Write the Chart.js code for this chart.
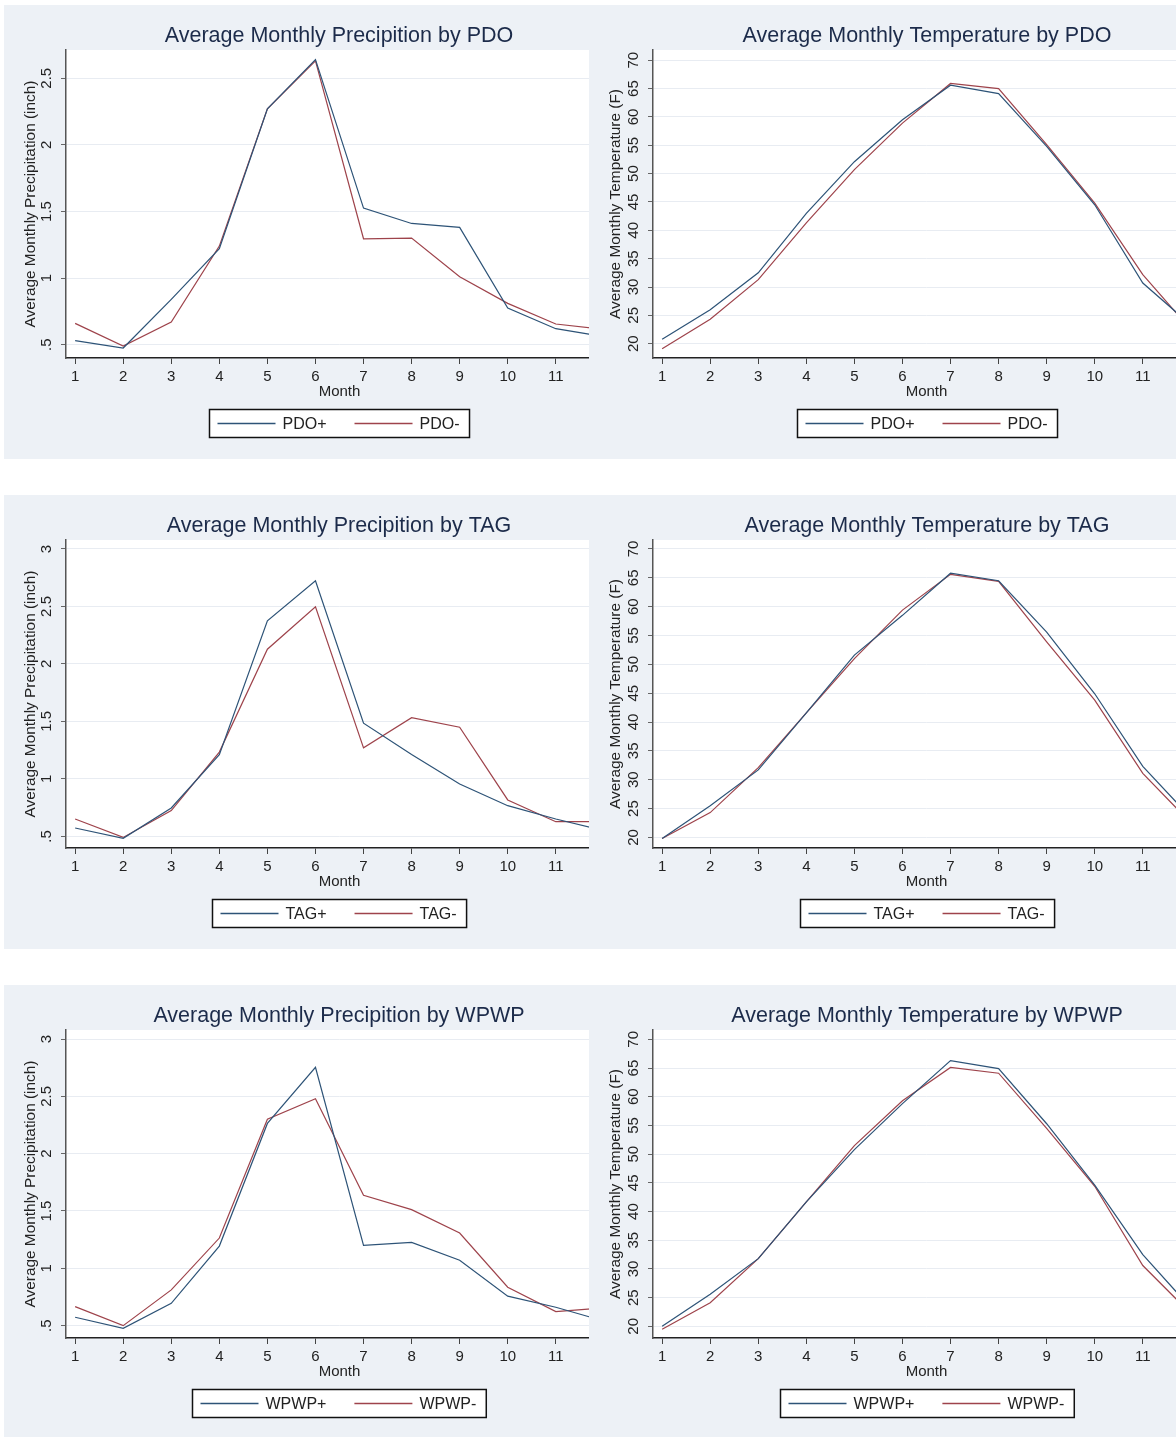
<!DOCTYPE html>
<html>
<head>
<meta charset="utf-8">
<title>Average Monthly Precipitation and Temperature by Climate Index</title>
<script src="https://cdn.jsdelivr.net/npm/chart.js@4.4.1/dist/chart.umd.min.js"></script>
<style>
    html, body { margin: 0; padding: 0; background: #fff; }
    #page { position: relative; width: 1176px; height: 1437px; overflow: hidden; }
    #page canvas { position: absolute; }
</style>
</head>
<body>
<div id="page">
    <canvas id="pdoPrecip" width="670" height="454" style="left:4px; top:5px"></canvas>
    <canvas id="pdoTemp" width="676" height="454" style="left:589px; top:5px"></canvas>
    <canvas id="tagPrecip" width="670" height="454" style="left:4px; top:495px"></canvas>
    <canvas id="tagTemp" width="676" height="454" style="left:589px; top:495px"></canvas>
    <canvas id="wpwpPrecip" width="670" height="454" style="left:4px; top:985px"></canvas>
    <canvas id="wpwpTemp" width="676" height="454" style="left:589px; top:985px"></canvas>
</div>
<script>
// Monthly averages, one value per month (Jan..Dec)
const months = [1, 2, 3, 4, 5, 6, 7, 8, 9, 10, 11, 12];

const pdoPrecipPos = [0.53, 0.475, 0.84, 1.22, 2.27, 2.64, 1.525, 1.41, 1.38, 0.775, 0.62, 0.56];
const pdoPrecipNeg = [0.66, 0.49, 0.67, 1.24, 2.27, 2.63, 1.295, 1.30, 1.01, 0.81, 0.655, 0.615];
const pdoTempPos = [20.8, 26.0, 32.5, 43.0, 52.1, 59.5, 65.6, 64.1, 54.8, 44.5, 30.7, 23.3];
const pdoTempNeg = [19.1, 24.3, 31.3, 41.3, 50.7, 58.9, 65.9, 65.0, 55.1, 44.8, 32.2, 22.5];

const tagPrecipPos = [0.573, 0.483, 0.747, 1.21, 2.375, 2.724, 1.485, 1.212, 0.956, 0.767, 0.651, 0.55];
const tagPrecipNeg = [0.651, 0.491, 0.724, 1.233, 2.128, 2.497, 1.27, 1.532, 1.45, 0.817, 0.628, 0.628];
const tagTempPos = [19.8, 25.5, 31.7, 41.6, 51.6, 58.5, 65.8, 64.5, 55.6, 44.9, 32.3, 23.4];
const tagTempNeg = [19.8, 24.3, 32.1, 41.6, 51.0, 59.4, 65.6, 64.4, 53.9, 43.8, 31.1, 22.5];

const wpwpPrecipPos = [0.573, 0.477, 0.695, 1.194, 2.264, 2.754, 1.20, 1.226, 1.07, 0.757, 0.66, 0.54];
const wpwpPrecipNeg = [0.666, 0.50, 0.812, 1.264, 2.30, 2.48, 1.637, 1.512, 1.308, 0.835, 0.622, 0.655];
const wpwpTempPos = [20.0, 25.6, 31.8, 41.7, 50.8, 58.8, 66.3, 64.9, 55.3, 44.6, 32.5, 23.2];
const wpwpTempNeg = [19.5, 24.1, 31.8, 41.7, 51.5, 59.3, 65.1, 64.1, 54.5, 44.4, 30.6, 22.2];

// Tick values
const monthTicks = [1, 2, 3, 4, 5, 6, 7, 8, 9, 10, 11, 12];
const precipTicksShort = [0.5, 1, 1.5, 2, 2.5];
const precipTicksLong = [0.5, 1, 1.5, 2, 2.5, 3];
const tempTicks = [20, 25, 30, 35, 40, 45, 50, 55, 60, 65, 70];

const seriesColors = ["#2d5377", "#9e434b"];
const panelBg = "#edf1f6";
const fontFamily = "'Liberation Sans', Arial, sans-serif";

Chart.defaults.font.family = fontFamily;

// Light panel background with a white plot region
const panelPlugin = {
    id: "panelBackground",
    beforeDraw(chart) {
        const { ctx, chartArea } = chart;
        ctx.save();
        ctx.fillStyle = panelBg;
        ctx.fillRect(0, 0, chart.width, chart.height);
        ctx.fillStyle = "#ffffff";
        ctx.fillRect(chartArea.left, chartArea.top, chartArea.right - chartArea.left, chartArea.bottom - chartArea.top);
        ctx.restore();
    }
};

// Legend in a bordered box under the axis title
const boxedLegend = {
    id: "boxedLegend",
    afterDraw(chart) {
        const ctx = chart.ctx;
        const sets = chart.data.datasets;
        const lineLen = 58, gap = 7, itemGap = 28, padL = 8, padR = 10;
        ctx.save();
        ctx.font = "16px " + fontFamily;
        const widths = sets.map(d => ctx.measureText(d.label).width);
        let total = padL + padR + (sets.length - 1) * itemGap;
        widths.forEach(w => { total += lineLen + gap + w; });
        const left = Math.round(chart.width / 2 - total / 2) + 0.5;
        const top = 404.5, height = 28;
        ctx.fillStyle = "#ffffff";
        ctx.fillRect(left, top, total, height);
        ctx.strokeStyle = "#111111";
        ctx.lineWidth = 1.5;
        ctx.strokeRect(left, top, total, height);

        const cy = top + height / 2;
        let x = left + padL;
        sets.forEach((d, i) => {
            ctx.beginPath();
            ctx.strokeStyle = seriesColors[i];
            ctx.lineWidth = 1.3;
            ctx.moveTo(x, cy);
            ctx.lineTo(x + lineLen, cy);
            ctx.stroke();
            x += lineLen + gap;
            ctx.fillStyle = "#222222";
            ctx.textBaseline = "middle";
            ctx.textAlign = "left";
            ctx.fillText(d.label, x, cy + 1);
            x += widths[i] + itemGap;
        });
        ctx.restore();
    }
};

function toPoints(values) {
    return months.map((m, i) => ({ x: m, y: values[i] }));
}

// Stata-style labels: ".5" rather than "0.5"
function tickLabel(v) {
    return v < 1 ? String(v).replace(/^0/, "") : String(v);
}

function makeChart(id, cfg) {
    const canvas = document.getElementById(id);
    const plotWidth = 547;
    const rightSpace = canvas.width - cfg.axisX - plotWidth;
    return new Chart(canvas, {
        type: "line",
        data: {
            datasets: [
                { label: cfg.names[0], data: toPoints(cfg.plus), borderColor: seriesColors[0], borderWidth: 1.2, pointRadius: 0, tension: 0, fill: false },
                { label: cfg.names[1], data: toPoints(cfg.minus), borderColor: seriesColors[1], borderWidth: 1.2, pointRadius: 0, tension: 0, fill: false }
            ]
        },
        options: {
            responsive: false,
            animation: false,
            events: [],
            layout: { padding: { left: 0, right: 0, top: 0, bottom: 52 } },
            plugins: {
                legend: { display: false },
                tooltip: { enabled: false },
                title: {
                    display: true,
                    text: cfg.title,
                    color: "#1c2b4a",
                    font: { size: 21.5, weight: "normal" },
                    padding: { top: 18, bottom: 1.2 }
                }
            },
            scales: {
                x: {
                    type: "linear",
                    min: 0.81,
                    max: 12.19,
                    afterBuildTicks: scale => { scale.ticks = monthTicks.map(v => ({ value: v })); },
                    afterFit: scale => { scale.height = 49; },
                    grid: { drawOnChartArea: false, drawTicks: true, tickLength: 6, color: "#444444", tickColor: "#444444" },
                    border: { color: "#222222", width: 1.5 },
                    ticks: { color: "#222222", font: { size: 15 }, padding: 3.7, maxRotation: 0, autoSkip: false, callback: v => String(v) },
                    title: { display: true, text: "Month", color: "#222222", font: { size: 15 }, padding: { top: 0, bottom: 5.7 } }
                },
                y: {
                    type: "linear",
                    min: cfg.yMin,
                    max: cfg.yMax,
                    afterBuildTicks: scale => { scale.ticks = cfg.yTicks.map(v => ({ value: v })); },
                    afterFit: scale => { scale.width = cfg.axisX; },
                    grid: { color: "#e8ecf2", lineWidth: 1, drawTicks: true, tickLength: 5, tickColor: "#666666" },
                    border: { color: "#555555", width: 1.5 },
                    ticks: {
                        color: "#222222",
                        font: { size: 15 },
                        minRotation: 90,
                        maxRotation: 90,
                        crossAlign: "center",
                        padding: cfg.tickPad,
                        autoSkip: false,
                        callback: v => tickLabel(v)
                    },
                    title: { display: true, text: cfg.yTitle, color: "#222222", font: { size: 15.4 }, padding: { top: 17.5, bottom: 0 } }
                },
                // empty right-hand axis so the plot sits centred under the title
                yRight: {
                    type: "linear",
                    position: "right",
                    min: cfg.yMin,
                    max: cfg.yMax,
                    afterFit: scale => { scale.width = rightSpace; },
                    grid: { display: false },
                    border: { display: false },
                    ticks: { display: false }
                }
            }
        },
        plugins: [panelPlugin, boxedLegend]
    });
}

document.addEventListener("DOMContentLoaded", () => {
    const precipTitle = "Average Monthly Precipitation (inch)";
    const tempTitle = "Average Monthly Temperature (F)";

    makeChart("pdoPrecip", {
        title: "Average Monthly Precipition by PDO", names: ["PDO+", "PDO-"],
        plus: pdoPrecipPos, minus: pdoPrecipNeg,
        yMin: 0.40, yMax: 2.712, yTicks: precipTicksShort, yTitle: precipTitle, axisX: 62, tickPad: 4
    });
    makeChart("pdoTemp", {
        title: "Average Monthly Temperature by PDO", names: ["PDO+", "PDO-"],
        plus: pdoTempPos, minus: pdoTempNeg,
        yMin: 17.48, yMax: 71.8, yTicks: tempTicks, yTitle: tempTitle, axisX: 64, tickPad: 5.5
    });
    makeChart("tagPrecip", {
        title: "Average Monthly Precipition by TAG", names: ["TAG+", "TAG-"],
        plus: tagPrecipPos, minus: tagPrecipNeg,
        yMin: 0.399, yMax: 3.078, yTicks: precipTicksLong, yTitle: precipTitle, axisX: 62, tickPad: 4
    });
    makeChart("tagTemp", {
        title: "Average Monthly Temperature by TAG", names: ["TAG+", "TAG-"],
        plus: tagTempPos, minus: tagTempNeg,
        yMin: 18.16, yMax: 71.56, yTicks: tempTicks, yTitle: tempTitle, axisX: 64, tickPad: 5.5
    });
    makeChart("wpwpPrecip", {
        title: "Average Monthly Precipition by WPWP", names: ["WPWP+", "WPWP-"],
        plus: wpwpPrecipPos, minus: wpwpPrecipNeg,
        yMin: 0.392, yMax: 3.079, yTicks: precipTicksLong, yTitle: precipTitle, axisX: 62, tickPad: 4
    });
    makeChart("wpwpTemp", {
        title: "Average Monthly Temperature by WPWP", names: ["WPWP+", "WPWP-"],
        plus: wpwpTempPos, minus: wpwpTempNeg,
        yMin: 17.97, yMax: 71.63, yTicks: tempTicks, yTitle: tempTitle, axisX: 64, tickPad: 5.5
    });
});
</script>
</body>
</html>
